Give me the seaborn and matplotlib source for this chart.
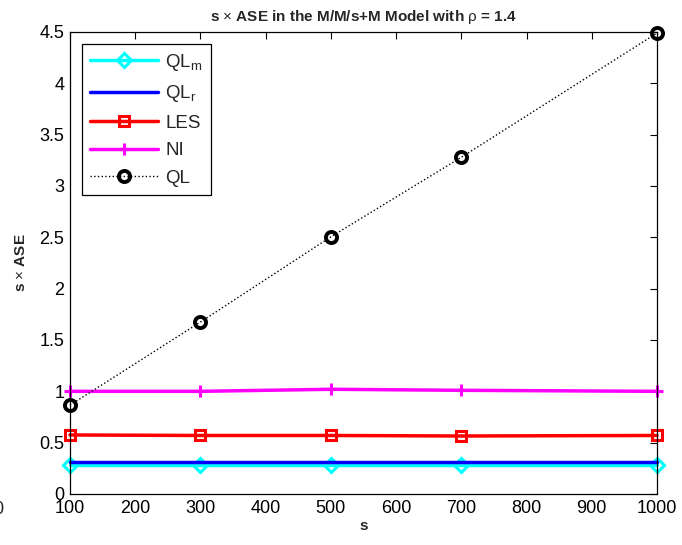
import matplotlib
matplotlib.use("Agg")
import matplotlib.pyplot as plt
import seaborn as sns
import pandas as pd

s_vals = [100, 300, 500, 700, 1000]
ql_m = [0.28, 0.28, 0.28, 0.28, 0.28]
ql_r = [0.31, 0.31, 0.31, 0.31, 0.31]
les = [0.575, 0.57, 0.57, 0.565, 0.57]
ni = [1.0, 1.0, 1.02, 1.01, 1.0]
ql = [0.865, 1.675, 2.505, 3.28, 4.49]
x_ticks = [100, 200, 300, 400, 500, 600, 700, 800, 900, 1000]
y_ticks = [0, 0.5, 1, 1.5, 2, 2.5, 3, 3.5, 4, 4.5]

sns.set_style("white")
plt.rcParams['font.family'] = ['Liberation Sans', 'DejaVu Sans']
plt.rcParams['mathtext.fontset'] = 'custom'
plt.rcParams['mathtext.rm'] = 'Liberation Sans'
plt.rcParams['mathtext.it'] = 'Liberation Sans'

fig = plt.figure(figsize=(6.82, 5.45), dpi=100)
ax = fig.add_axes([70/682, 51/545, 587/682, 462/545])

series = [
    ("QL$_\\mathregular{m}$", ql_m, dict(color="cyan", marker="D", markersize=7, markerfacecolor="none",
                              markeredgecolor="cyan", markeredgewidth=2.2, linestyle="-", linewidth=2.5)),
    ("QL$_\\mathregular{r}$", ql_r, dict(color="blue", marker="", linestyle="-", linewidth=2.5)),
    ("LES", les, dict(color="red", marker="s", markersize=6.5, markerfacecolor="none",
                      markeredgecolor="red", markeredgewidth=2.2, linestyle="-", linewidth=2.5)),
    ("NI", ni, dict(color="magenta", marker="+", markersize=9, markeredgewidth=2.2,
                    markeredgecolor="magenta", linestyle="-", linewidth=2.5)),
    ("QL", ql, dict(color="black", marker="o", markersize=8, markerfacecolor="none",
                    markeredgecolor="black", markeredgewidth=2.8, linestyle=":", linewidth=1.0)),
]

for label, vals, kw in series:
    df = pd.DataFrame({"s": s_vals, "v": vals})
    sns.lineplot(data=df, x="s", y="v", ax=ax, label=label, clip_on=False, **kw)

ax.set_xlim(100, 1000)
ax.set_ylim(0, 4.5)
ax.set_xticks(x_ticks)
ax.set_yticks(y_ticks)
ax.set_yticklabels(["0", "0.5", "1", "1.5", "2", "2.5", "3", "3.5", "4", "4.5"])
ax.tick_params(direction="in", top=True, right=True, length=5, width=0.8,
               labelsize=13, colors="black", pad=4)
for sp in ax.spines.values():
    sp.set_visible(True)
    sp.set_color("black")
    sp.set_linewidth(0.9)

ax.set_xlabel("s", fontsize=11, fontweight="bold", labelpad=2)
ax.set_ylabel("s $\\times$ ASE", fontsize=11, fontweight="bold", labelpad=8)
ax.set_title("s $\\times$ ASE in the M/M/s+M Model with $\\rho$ = 1.4",
             fontsize=11, fontweight="bold", pad=8)

leg = ax.legend(loc="upper left", bbox_to_anchor=(0.02, 0.975), fontsize=13.5,
                frameon=True, fancybox=False, edgecolor="black", framealpha=1,
                handlelength=3.6, borderpad=0.45, labelspacing=0.55, handletextpad=0.4,
                borderaxespad=0)
leg.get_frame().set_linewidth(0.9)

fig.text(-2/682, 1 - 510/545, "0", fontsize=13, ha="center", va="center")

fig.savefig("out.png", dpi=100)
